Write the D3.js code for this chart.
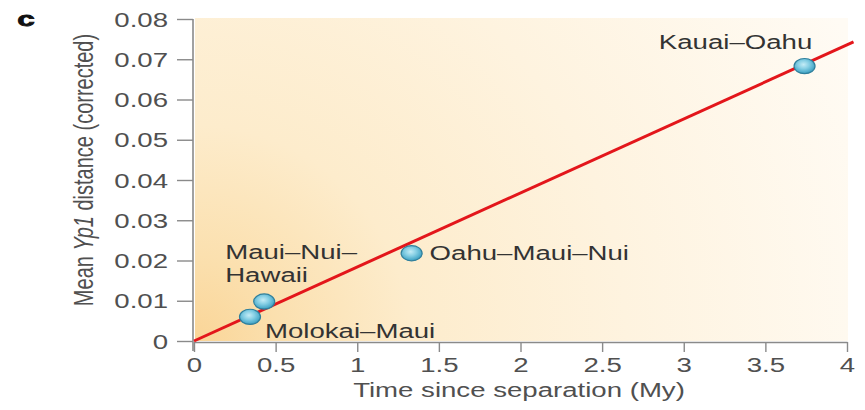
<!DOCTYPE html>
<html>
<head>
<meta charset="utf-8">
<script src="https://cdn.jsdelivr.net/npm/d3@7"></script>
<style>
  html, body { margin: 0; padding: 0; background: #fff; }
  svg { display: block; font-family: "Liberation Sans", Arial, sans-serif; }
</style>
</head>
<body>
<svg id="chart" width="865" height="410"></svg>
<script>
// Island pairs: time since separation (My) vs mean Yp1 distance (corrected)
const pairNames = ["Kauai\u2013Oahu", "Oahu\u2013Maui\u2013Nui", "Maui\u2013Nui\u2013Hawaii", "Molokai\u2013Maui"];
const timeMy    = [3.74, 1.333, 0.43, 0.343];
const distance  = [0.0683, 0.0218, 0.0098, 0.0060];

// Fitted line through the origin (endpoints)
const fitX = [0, 4.04];
const fitY = [0, 0.0743];

const xTicks = [0, 0.5, 1, 1.5, 2, 2.5, 3, 3.5, 4];
const xTickLabels = ["0", "0.5", "1", "1.5", "2", "2.5", "3", "3.5", "4"];
const yTicks = [0, 0.01, 0.02, 0.03, 0.04, 0.05, 0.06, 0.07, 0.08];
const yTickLabels = ["0", "0.01", "0.02", "0.03", "0.04", "0.05", "0.06", "0.07", "0.08"];

const SX = 1.38;   // horizontal text stretch
const FS = 20;     // font size

const svg = d3.select("#chart");
const plotLeft = 194, plotRight = 847, plotTop = 19, plotBottom = 341;

const x = d3.scaleLinear().domain([0, 4]).range([plotLeft, plotRight]);
const y = d3.scaleLinear().domain([0, 0.08]).range([plotBottom, plotTop]);

const defs = svg.append("defs");
const bg = defs.append("radialGradient")
  .attr("id", "bgGrad").attr("gradientUnits", "userSpaceOnUse")
  .attr("cx", plotLeft).attr("cy", plotBottom).attr("r", 720);
[[0, "#fad597"], [0.12, "#fbe0af"], [0.3, "#fdeccc"], [0.6, "#fef3df"], [1, "#fffbf4"]]
  .forEach(([o, c]) => bg.append("stop").attr("offset", o).attr("stop-color", c));

const dotGrad = defs.append("radialGradient")
  .attr("id", "dotGrad").attr("cx", "0.45").attr("cy", "0.4").attr("r", "0.6");
[[0, "#c4ecf6"], [0.45, "#86cfe4"], [0.85, "#4eaccb"], [1, "#3a96b6"]]
  .forEach(([o, c]) => dotGrad.append("stop").attr("offset", o).attr("stop-color", c));

// Plot background
svg.append("rect")
  .attr("x", plotLeft + 1).attr("y", plotTop - 1)
  .attr("width", plotRight - plotLeft).attr("height", plotBottom - plotTop + 1)
  .attr("fill", "url(#bgGrad)");

// Axes
const axisColor = "#8a8a8a";
const labelColor = "#505050";

const yAxis = svg.append("g")
  .attr("transform", `translate(${plotLeft - 1},0)`)
  .call(d3.axisLeft(y).tickValues(yTicks).tickFormat((d, i) => yTickLabels[i])
    .tickSize(16).tickSizeOuter(0).tickPadding(0));
yAxis.select(".domain").attr("stroke", axisColor).attr("stroke-width", 1.6)
  .attr("d", `M0,${plotTop}V${plotBottom + 10}`);
yAxis.selectAll(".tick line").attr("stroke", axisColor).attr("stroke-width", 1.4);
yAxis.selectAll(".tick text")
  .attr("x", 0).attr("dy", "0.36em")
  .attr("transform", `translate(-25,0) scale(${SX},1)`)
  .attr("font-size", FS).attr("font-family", "Liberation Sans, Arial, sans-serif")
  .attr("fill", labelColor).attr("text-anchor", "end");

const xAxis = svg.append("g")
  .attr("transform", `translate(0,${plotBottom + 1})`)
  .call(d3.axisBottom(x).tickValues(xTicks).tickFormat((d, i) => xTickLabels[i])
    .tickSize(10).tickSizeOuter(0).tickPadding(0));
xAxis.select(".domain").attr("stroke", axisColor).attr("stroke-width", 1.6);
xAxis.selectAll(".tick line").attr("stroke", axisColor).attr("stroke-width", 1.4);
xAxis.selectAll(".tick text")
  .attr("y", 0).attr("dy", 0)
  .attr("transform", `translate(0,30) scale(${SX},1)`)
  .attr("font-size", FS).attr("font-family", "Liberation Sans, Arial, sans-serif")
  .attr("fill", labelColor).attr("text-anchor", "middle");

// Axis titles
svg.append("text")
  .attr("transform", `translate(519,397) scale(${SX},1)`)
  .attr("text-anchor", "middle").attr("font-size", FS).attr("fill", labelColor)
  .text("Time since separation (My)");

const yTitle = svg.append("text")
  .attr("transform", `translate(93,170) rotate(-90) scale(1,${SX})`)
  .attr("text-anchor", "middle").attr("font-size", FS).attr("fill", labelColor);
yTitle.append("tspan").text("Mean ");
yTitle.append("tspan").attr("font-style", "italic").text("Yp1");
yTitle.append("tspan").text(" distance (corrected)");

// Panel letter
svg.append("text")
  .attr("transform", `translate(26,26) scale(1.5,1)`)
  .attr("text-anchor", "middle").attr("font-size", 21).attr("font-weight", 900)
  .attr("stroke", "#111").attr("stroke-width", 0.8)
  .attr("fill", "#111").text("c");

// Fitted line
const line = d3.line().x(d => x(d[0])).y(d => y(d[1]));
svg.append("path")
  .datum(d3.zip(fitX, fitY))
  .attr("d", line)
  .attr("fill", "none").attr("stroke", "#e3161b").attr("stroke-width", 3);

// Points
const pts = d3.range(pairNames.length).map(i => ({ name: pairNames[i], t: timeMy[i], d: distance[i] }));
svg.append("g").selectAll("ellipse")
  .data(pts).join("ellipse")
  .attr("cx", d => x(d.t)).attr("cy", d => y(d.d))
  .attr("rx", 10.5).attr("ry", 7.6)
  .attr("fill", "url(#dotGrad)")
  .attr("stroke", "#2f7f9c").attr("stroke-width", 1.2);

// Point labels
const textColor = "#333";
function label(lines, px, py, anchor, dx, dy, lh) {
  const g = svg.append("g")
    .attr("transform", `translate(${px + dx},${py + dy}) scale(${SX},1)`);
  lines.forEach((s, k) => {
    g.append("text").attr("y", k * lh)
      .attr("text-anchor", anchor).attr("font-size", FS).attr("fill", textColor)
      .text(s);
  });
}
label(["Kauai\u2013Oahu"], x(timeMy[0]), y(distance[0]), "middle", -69, -17, 0);
label(["Oahu\u2013Maui\u2013Nui"], x(timeMy[1]), y(distance[1]), "start", 18, 7, 0);
label(["Maui\u2013Nui\u2013", "Hawaii"], x(timeMy[2]), y(distance[2]), "start", -39, -43, 23);
label(["Molokai\u2013Maui"], x(timeMy[3]), y(distance[3]), "start", 15, 21, 0);
</script>
</body>
</html>
